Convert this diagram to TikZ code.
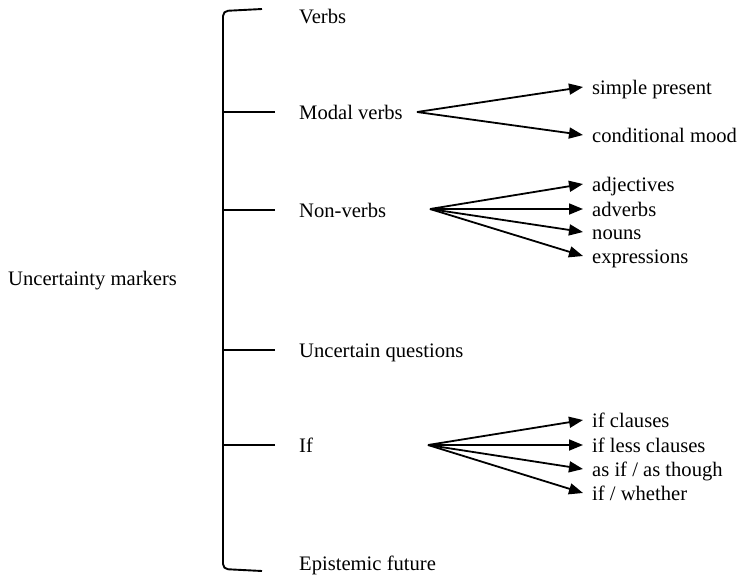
\documentclass[tikz,border=0pt]{standalone}
\usepackage{fontspec}
\setmainfont{Liberation Serif}
\usetikzlibrary{arrows.meta}

\begin{document}
\begin{tikzpicture}[x=1pt,y=-1pt,font=\fontsize{20.6}{24}\selectfont,
  lbl/.style={anchor=west,inner xsep=0pt,inner ysep=0pt,text height=14pt,text depth=0pt},
  sub/.style={lbl,inner xsep=9pt},
  fan/.style={line width=1.8pt,-{Triangle[length=14pt,width=11pt]}}]
  \useasboundingbox (0,0) rectangle (739,574);
  \node[lbl] (root) at (8,278) {Uncertainty markers};
  % bracket
  \draw[line width=1.9pt,rounded corners=5pt] (262,9) -- (223,11) -- (223,569) -- (262,571);
  \node[lbl] (verbs) at (299,16) {Verbs};
  \node[lbl] (epi) at (299,563) {Epistemic future};
  \foreach \name/\txt/\yy in {mod/Modal verbs/112, non/Non-verbs/210,
      unq/Uncertain questions/350, if/If/445} {
    \node[lbl] (\name) at (299,\yy) {\txt};
    \draw[line width=1.9pt] ([xshift=-24pt]\name.west) -- ++(-52,0);
  }
  % fans
  \coordinate (modfan) at (417,112);
  \coordinate (nonfan) at (430,209);
  \coordinate (iffan) at (428,445);
  \foreach \name/\txt/\yy/\src in {sp/{simple present}/87/modfan, cm/{conditional mood}/135/modfan,
      adj/adjectives/184/nonfan, adv/adverbs/209/nonfan, nou/nouns/232/nonfan, exp/expressions/256/nonfan,
      ifc/{if clauses}/420/iffan, ifl/{if less clauses}/445/iffan,
      asif/{as if / as though}/469/iffan, ifw/{if / whether}/493/iffan} {
    \node[sub] (\name) at (583,\yy) {\txt};
    \draw[fan] (\src) -- (\name.west);
  }
\end{tikzpicture}
\end{document}
